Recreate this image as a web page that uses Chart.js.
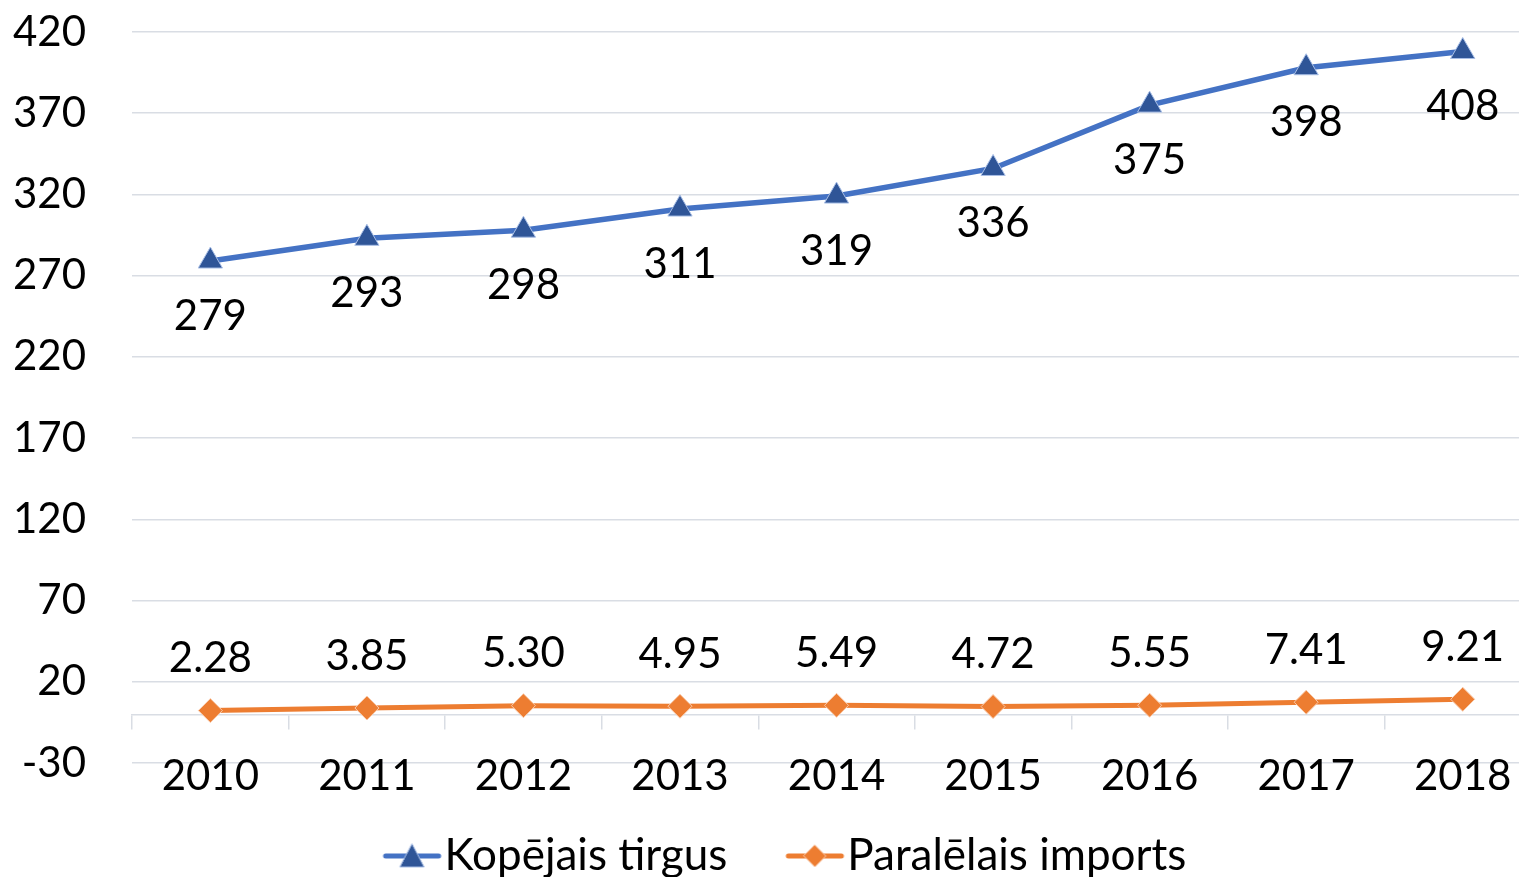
<!DOCTYPE html>
<html lang="lv">
<head>
    <meta charset="UTF-8">
    <title>Kopējais tirgus un paralēlais imports</title>
    <script src="https://cdn.jsdelivr.net/npm/chart.js"></script>
    <style>
        html, body {
            margin: 0;
            padding: 0;
            overflow: hidden;
            background: #fff;
        }

        .chart-container {
            position: relative;
            width: 1556px;
            height: 877px;
        }
    </style>
</head>
<body>
    <div class="chart-container">
        <canvas id="lineChart"></canvas>
    </div>
    <script>
        // Data
        const years = ['2010', '2011', '2012', '2013', '2014', '2015', '2016', '2017', '2018'];
        const totalMarket = [279, 293, 298, 311, 319, 336, 375, 398, 408];
        const parallelImport = [2.28, 3.85, 5.30, 4.95, 5.49, 4.72, 5.55, 7.41, 9.21];
        const seriesNames = ['Kopējais tirgus', 'Paralēlais imports'];
        const yMin = -30;
        const yMax = 420;
        const yStep = 50;

        const FONT = 'Lato, Carlito, Calibri, sans-serif';
        const gridColor = '#D9DDE4';

        // small legend icon: line with the marker in the middle
        function legendIcon(lineColor, fill, border, shape) {
            const c = document.createElement('canvas');
            c.width = 72;
            c.height = 30;
            const g = c.getContext('2d');
            const cx = 40.5;
            g.strokeStyle = lineColor;
            g.lineWidth = 5;
            g.lineCap = 'round';
            g.beginPath();
            g.moveTo(14, 15);
            g.lineTo(67, 15);
            g.stroke();
            g.fillStyle = fill;
            g.strokeStyle = border;
            g.lineWidth = 1;
            g.beginPath();
            if (shape === 'triangle') {
                g.moveTo(cx, 3);
                g.lineTo(cx + 12, 26);
                g.lineTo(cx - 12, 26);
            } else {
                g.moveTo(cx, 4);
                g.lineTo(cx + 11, 15);
                g.lineTo(cx, 26);
                g.lineTo(cx - 11, 15);
            }
            g.closePath();
            g.fill();
            g.stroke();
            return c;
        }

        const icons = [
            legendIcon('#4472C4', '#2F5597', '#A9BFE6', 'triangle'),
            legendIcon('#ED7D31', '#ED7D31', '#F8CBAD', 'diamond')
        ];

        // value labels next to every point
        const valueLabels = {
            id: 'valueLabels',
            afterDatasetsDraw(chart, args, opts) {
                const ctx = chart.ctx;
                ctx.save();
                ctx.font = opts.size + 'px ' + FONT;
                ctx.fillStyle = '#000';
                ctx.textAlign = 'center';
                ctx.textBaseline = 'middle';
                chart.data.datasets.forEach((ds, i) => {
                    chart.getDatasetMeta(i).data.forEach((pt, j) => {
                        ctx.fillText(ds.data[j].toFixed(opts.decimals[i]), pt.x, pt.y + opts.offsets[i]);
                    });
                });
                ctx.restore();
            }
        };

        // nudge the legend box a bit right and down
        const legendShift = {
            id: 'legendShift',
            afterLayout(chart, args, opts) {
                const lg = chart.legend;
                lg.left += opts.dx;
                lg.right += opts.dx;
                lg.top += opts.dy;
                lg.bottom += opts.dy;
            }
        };

        Chart.defaults.font.family = FONT;
        Chart.defaults.font.size = 42;
        Chart.defaults.color = '#000';

        const ctx = document.getElementById('lineChart').getContext('2d');
        new Chart(ctx, {
            type: 'line',
            data: {
                labels: years,
                datasets: [{
                    label: seriesNames[0],
                    data: totalMarket,
                    borderColor: '#4472C4',
                    borderWidth: 5.5,
                    pointStyle: 'triangle',
                    pointRadius: 14,
                    pointBackgroundColor: '#2F5597',
                    pointBorderColor: '#A9BFE6',
                    pointBorderWidth: 1,
                    tension: 0
                }, {
                    label: seriesNames[1],
                    data: parallelImport,
                    borderColor: '#ED7D31',
                    borderWidth: 5,
                    pointStyle: 'rectRot',
                    pointRadius: 12,
                    pointBackgroundColor: '#ED7D31',
                    pointBorderColor: '#F8CBAD',
                    pointBorderWidth: 1,
                    tension: 0
                }]
            },
            options: {
                responsive: true,
                maintainAspectRatio: false,
                animation: false,
                layout: {
                    padding: { top: 32, left: 13, right: 0, bottom: -8 }
                },
                scales: {
                    x: {
                        position: { y: 0 },
                        offset: true,
                        grid: {
                            display: true,
                            drawOnChartArea: false,
                            drawTicks: true,
                            tickLength: 14,
                            offset: true,
                            color: gridColor,
                            lineWidth: 1.5
                        },
                        border: { display: true, color: gridColor, width: 1.5 },
                        ticks: { padding: 23, maxRotation: 0 }
                    },
                    y: {
                        min: yMin,
                        max: yMax,
                        ticks: { stepSize: yStep, padding: 0 },
                        grid: {
                            color: gridColor,
                            lineWidth: 1.5,
                            drawTicks: true,
                            tickLength: 46,
                            tickColor: 'rgba(0,0,0,0)'
                        },
                        border: { display: false }
                    }
                },
                plugins: {
                    legend: {
                        position: 'bottom',
                        labels: {
                            usePointStyle: true,
                            pointStyleWidth: 30,
                            padding: 68,
                            color: '#000',
                            font: { size: 44 },
                            generateLabels(chart) {
                                const items = Chart.defaults.plugins.legend.labels.generateLabels(chart);
                                items.forEach((it, i) => { it.pointStyle = icons[i]; });
                                return items;
                            }
                        }
                    },
                    tooltip: { enabled: false },
                    valueLabels: { size: 42, offsets: [55, -52], decimals: [0, 2] },
                    legendShift: { dx: 5, dy: 3 }
                }
            },
            plugins: [valueLabels, legendShift]
        });
    </script>
</body>
</html>
